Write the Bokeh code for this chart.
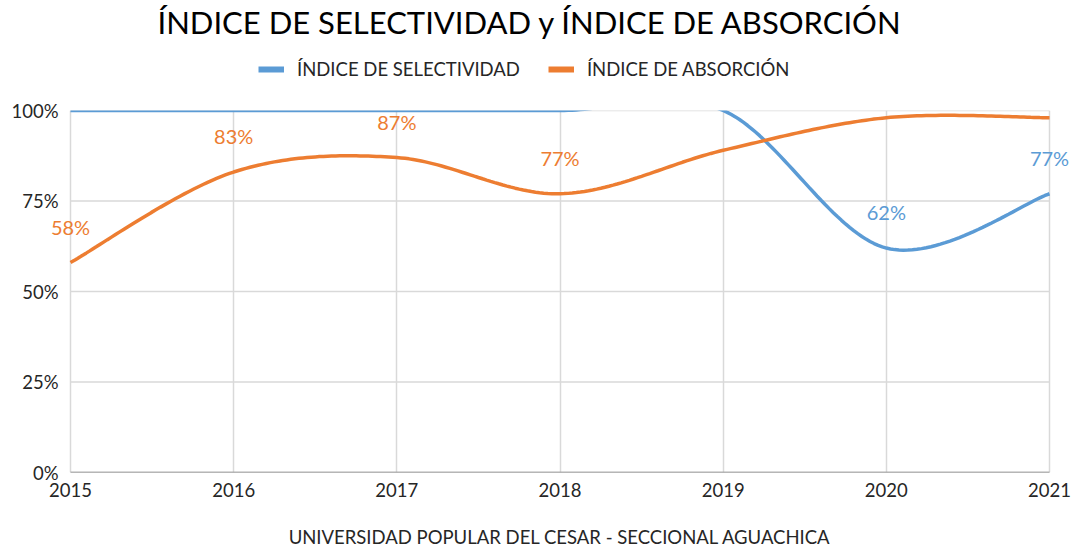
from bokeh.plotting import figure
from bokeh.layouts import column
from bokeh.models import (Range1d, FixedTicker, PrintfTickFormatter, Legend, LegendItem,
                          ColumnDataSource)
from bokeh.embed import file_html
from bokeh.resources import INLINE
from bokeh.core.properties import value

years = [2015, 2016, 2017, 2018, 2019, 2020, 2021]
selectividad = [100, 100, 100, 100, 100, 62, 77]
absorcion = [58, 83, 87, 77, 89, 98, 98]
sel_labels = ["", "", "", "", "", "62%", "77%"]
abs_labels = ["58%", "83%", "87%", "77%", "", "", ""]
y_ticks = [0, 25, 50, 75, 100]

title_text = "ÍNDICE DE SELECTIVIDAD y ÍNDICE DE ABSORCIÓN"
footer_text = "UNIVERSIDAD POPULAR DEL CESAR - SECCIONAL AGUACHICA"
name_sel = "ÍNDICE DE SELECTIVIDAD"
name_abs = "ÍNDICE DE ABSORCIÓN"

BLUE = "#5b9bd5"
ORANGE = "#ed7d31"
GRID = "#d9d9d9"
TXT = "#262626"
FONT = "Lato"
FS = "18.5px"

W = 1073
LEFT = 46
TOP_H = 96
MAIN_H = 552 - TOP_H


def smooth(xs, ys, n=40):
    # Catmull-Rom style bezier smoothing (like spreadsheet "smoothed line")
    px, py = [], []
    m = len(xs)
    for i in range(m - 1):
        x0, y0 = (xs[i - 1], ys[i - 1]) if i > 0 else (xs[i], ys[i])
        x1, y1 = xs[i], ys[i]
        x2, y2 = xs[i + 1], ys[i + 1]
        x3, y3 = (xs[i + 2], ys[i + 2]) if i + 2 < m else (xs[i + 1], ys[i + 1])
        c1x, c1y = x1 + (x2 - x0) / 6, y1 + (y2 - y0) / 6
        c2x, c2y = x2 - (x3 - x1) / 6, y2 - (y3 - y1) / 6
        for k in range(n + (1 if i == m - 2 else 0)):
            t = k / n
            a = (1 - t) ** 3
            b = 3 * (1 - t) ** 2 * t
            c = 3 * (1 - t) * t ** 2
            d = t ** 3
            px.append(a * x1 + b * c1x + c * c2x + d * x2)
            py.append(a * y1 + b * c1y + c * c2y + d * y2)
    return px, py


# ---------- header figure: title + legend ----------
top = figure(width=W, height=TOP_H, x_range=Range1d(0, 1), y_range=Range1d(0, 1),
             output_backend="svg", toolbar_location=None,
             min_border_left=LEFT, min_border_right=0, min_border_top=0, min_border_bottom=0)
top.axis.visible = False
top.grid.visible = False
top.outline_line_color = None
top.title.text = title_text
top.title.align = "left"
top.title.offset = 157 - LEFT
top.title.text_font = FONT
top.title.text_font_size = "31px"
top.title.text_font_style = "normal"
top.title.text_color = "black"
top.title.standoff = 0

# legend-only renderers: their single point lies outside the visible range
l_sel = top.line([5, 6], [5, 6], line_color=BLUE, line_width=6)
l_abs = top.line([5, 6], [5, 6], line_color=ORANGE, line_width=6)
legend = Legend(items=[LegendItem(label=name_sel, renderers=[l_sel]),
                       LegendItem(label=name_abs, renderers=[l_abs])],
                orientation="horizontal", location=(258 - LEFT, TOP_H - 80),
                label_text_font=FONT, label_text_font_size=FS, label_text_color=TXT,
                glyph_width=26, spacing=28, label_standoff=13, border_line_color=None,
                background_fill_alpha=0, padding=4, margin=0)
top.add_layout(legend, "center")

# ---------- main chart ----------
px_per_year = (1049 - 70) / (years[-1] - years[0])
x0 = years[0] - (70 - LEFT) / px_per_year
x1 = years[-1] + (W - 1049) / px_per_year
p = figure(width=W, height=MAIN_H, x_range=Range1d(x0, x1), y_range=Range1d(0, 100),
           output_backend="svg", toolbar_location=None,
           min_border_left=LEFT, min_border_right=0, min_border_top=110 - TOP_H,
           min_border_bottom=80)
p.outline_line_color = None
p.title.visible = False

# grid
p.xgrid.ticker = FixedTicker(ticks=years)
p.xgrid.grid_line_color = GRID
p.xgrid.grid_line_width = 1.5
p.ygrid.visible = False
p.segment(x0=[years[0]] * len(y_ticks), y0=y_ticks, x1=[years[-1]] * len(y_ticks), y1=y_ticks,
          line_color=GRID, line_width=1.5)
p.segment(x0=[years[0]], y0=[y_ticks[0]], x1=[years[-1]], y1=[y_ticks[0]],
          line_color="#808080", line_width=1.5)

# axes
p.xaxis.ticker = FixedTicker(ticks=years)
p.yaxis.ticker = FixedTicker(ticks=y_ticks)
p.yaxis.formatter = PrintfTickFormatter(format="%d%%")
for ax in (p.xaxis[0], p.yaxis[0]):
    ax.major_tick_line_color = None
    ax.minor_tick_line_color = None
    ax.axis_line_color = None
    ax.major_label_text_font = FONT
    ax.major_label_text_font_size = FS
    ax.major_label_text_color = TXT
p.yaxis.major_label_standoff = -18
p.xaxis.major_label_standoff = 4
p.xaxis.axis_label = footer_text
p.xaxis.axis_label_text_font = FONT
p.xaxis.axis_label_text_font_size = FS
p.xaxis.axis_label_text_font_style = "normal"
p.xaxis.axis_label_text_color = TXT
p.xaxis.axis_label_standoff = 26

sx, sy = smooth(years, selectividad)
ax_, ay = smooth(years, absorcion)
p.line(sx, sy, line_color=BLUE, line_width=3.5)
p.line(ax_, ay, line_color=ORANGE, line_width=3.5)

src_sel = ColumnDataSource(dict(x=years, y=selectividad, t=sel_labels))
src_abs = ColumnDataSource(dict(x=years, y=absorcion, t=abs_labels))
p.text(x="x", y="y", text="t", source=src_abs, text_color=ORANGE, text_font=value(FONT),
       text_font_size="20px", text_align="center", text_baseline="middle", y_offset=-36)
p.text(x="x", y="y", text="t", source=src_sel, text_color=BLUE, text_font=value(FONT),
       text_font_size="20px", text_align="center", text_baseline="middle", y_offset=-36)

open("out.html", "w").write(file_html(column(top, p, spacing=0), INLINE))
